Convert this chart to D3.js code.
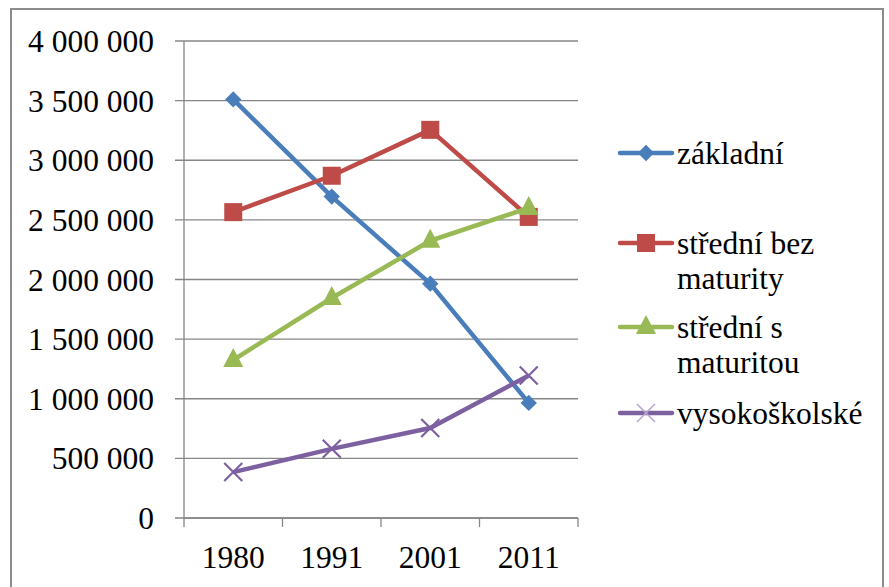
<!DOCTYPE html>
<html><head><meta charset="utf-8">
<script src="https://cdn.jsdelivr.net/npm/d3@7"></script>
</head><body style="margin:0">
<script>
const categories = ["1980","1991","2001","2011"];
const seriesNames = ["základní","střední bez maturity","střední s maturitou","vysokoškolské"];
const zakladni = [3510000, 2695000, 1965000, 965000];
const stredniBez = [2565000, 2870000, 3255000, 2525000];
const stredniS = [1325000, 1845000, 2325000, 2600000];
const vysokoskolske = [385000, 580000, 755000, 1195000];
const yTicks = [0,500000,1000000,1500000,2000000,2500000,3000000,3500000,4000000];
const colors = ["#4A7EBB","#BE4B48","#98B954","#7D60A0"];
const symbols = ["diamond","square","triangle","x"];
const legendLines = [["základní"],["střední bez","maturity"],["střední s","maturitou"],["vysokoškolské"]];

const W=889,H=587;
const FS=31.5;
const svg=d3.select("body").append("svg").attr("width",W).attr("height",H).style("display","block");
svg.append("rect").attr("x",11).attr("y",9).attr("width",872).attr("height",600)
  .attr("fill","#fff").attr("stroke","#8c8c8c").attr("stroke-width",2);

const pL=184,pR=578,pT=41,pB=518;
const x=d3.scaleBand().domain(categories).range([pL,pR]);
const y=d3.scaleLinear().domain([0,4000000]).range([pB,pT]);
const fmt=v=>d3.format(",")(v).replace(/,/g," ");
function serif(sel){ return sel.attr("font-family","Liberation Serif").style("font-family",'"Liberation Serif"').attr("font-size",FS).attr("fill","#000"); }

svg.append("g").selectAll("line").data(yTicks).join("line")
  .attr("x1",pL-9).attr("x2",pR).attr("y1",d=>y(d)).attr("y2",d=>y(d))
  .attr("stroke","#868686").attr("stroke-width",1.3);

svg.append("line").attr("x1",pL).attr("x2",pL).attr("y1",pT).attr("y2",pB)
  .attr("stroke","#868686").attr("stroke-width",1.3);
serif(svg.append("g").selectAll("text").data(yTicks).join("text")
  .attr("x",154).attr("y",d=>y(d)+11).attr("text-anchor","end")).text(fmt);

const gx=svg.append("g").attr("transform",`translate(0,${pB})`);
gx.append("line").attr("x1",pL).attr("x2",pR).attr("stroke","#868686").attr("stroke-width",1.3);
const bounds=categories.map(c=>x(c)).concat([pR]);
gx.selectAll("line.t").data(bounds).join("line").attr("class","t")
  .attr("x1",d=>d).attr("x2",d=>d).attr("y1",0).attr("y2",9)
  .attr("stroke","#868686").attr("stroke-width",1.3);
serif(gx.selectAll("text").data(categories).join("text")
  .attr("x",d=>x(d)+x.bandwidth()/2).attr("y",50).attr("text-anchor","middle")).text(d=>d);

const data=[zakladni,stredniBez,stredniS,vysokoskolske];
const cx=c=>x(c)+x.bandwidth()/2;
const line=d3.line().x((d,i)=>cx(categories[i])).y(d=>y(d));

function marker(g,type,color){
  if(type==="diamond") g.append("path").attr("d",d3.symbol(d3.symbolDiamond2,170)()).attr("fill",color);
  else if(type==="square") g.append("rect").attr("x",-9).attr("y",-9).attr("width",18).attr("height",18).attr("fill",color);
  else if(type==="triangle") g.append("path").attr("d","M0,-12 L10,7 L-10,7Z").attr("fill",color);
  else g.append("path").attr("d","M-9,-9L9,9M-9,9L9,-9").attr("stroke",color).attr("stroke-width",2.2).attr("fill","none");
}

data.forEach((vals,si)=>{
  svg.append("path").datum(vals).attr("d",line).attr("fill","none")
    .attr("stroke",colors[si]).attr("stroke-width",4.5).attr("stroke-linejoin","round");
  vals.forEach((v,i)=>{
    const g=svg.append("g").attr("transform",`translate(${cx(categories[i])},${y(v)})`);
    marker(g,symbols[si],colors[si]);
  });
});

const legY=[153,243,327,413];
legendLines.forEach((lines,si)=>{
  const ly=legY[si];
  svg.append("line").attr("x1",620).attr("x2",672).attr("y1",ly).attr("y2",ly)
    .attr("stroke",colors[si]).attr("stroke-width",4.5).attr("stroke-linecap","round");
  const g=svg.append("g").attr("transform",`translate(646,${ly})`);
  if(symbols[si]==="x"){
    g.append("path").attr("d","M-9,-9L9,9M-9,9L9,-9").attr("stroke","#b9a6d1").attr("stroke-width",1.6);
  } else marker(g,symbols[si],colors[si]);
  lines.forEach((l,k)=>serif(svg.append("text").attr("x",677).attr("y",ly+11+k*35)).text(l));
});
</script>
</body></html>
